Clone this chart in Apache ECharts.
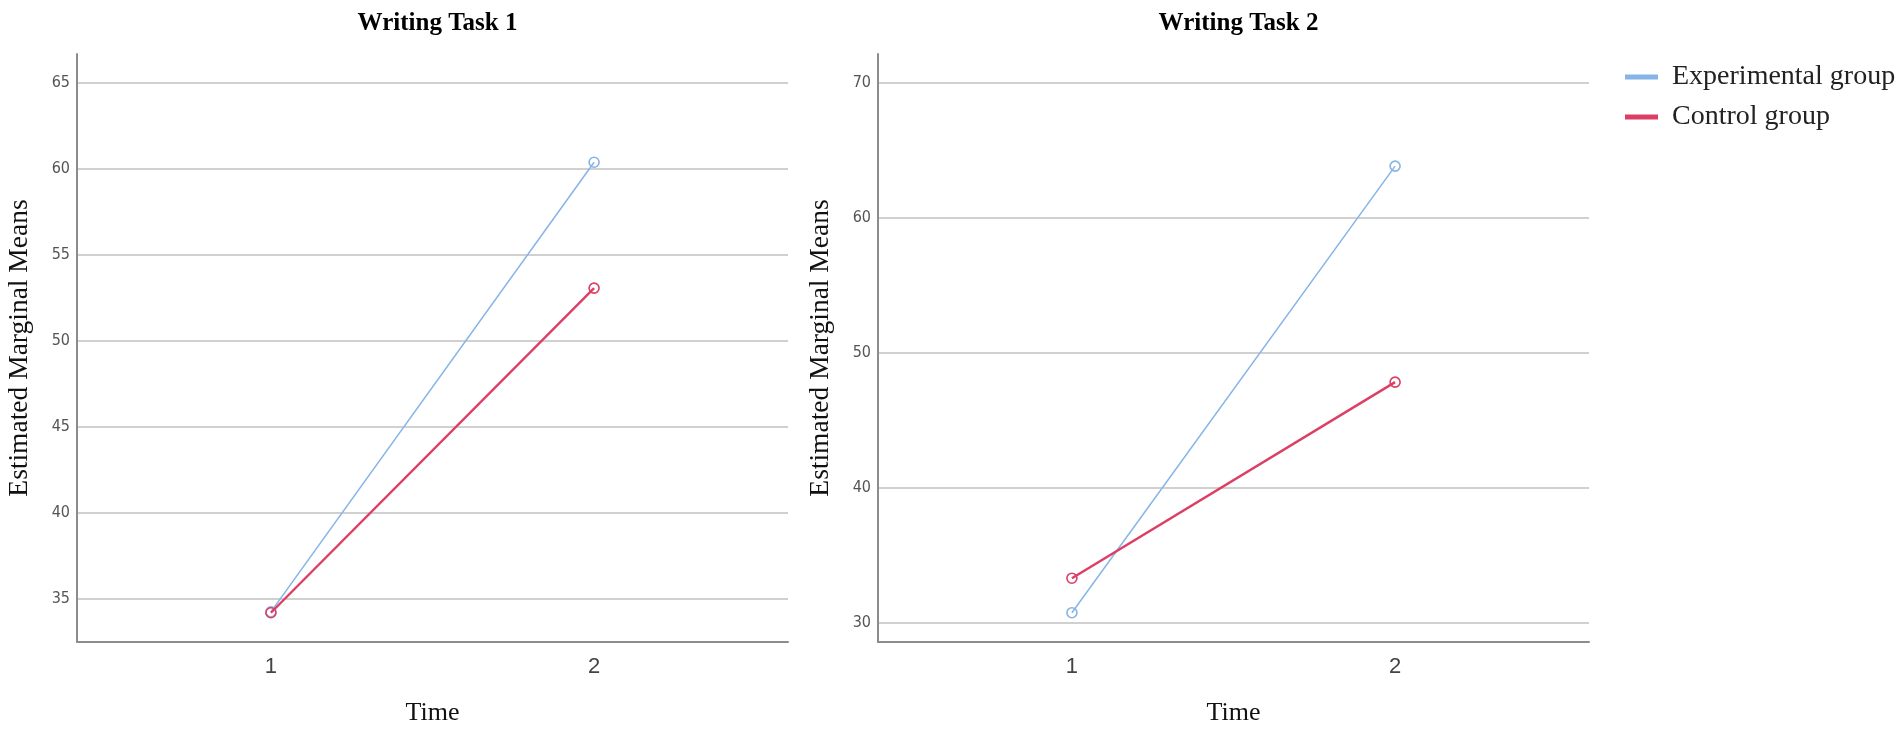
<!DOCTYPE html>
<html><head><meta charset="utf-8">
<script src="https://cdn.jsdelivr.net/npm/echarts@6/dist/echarts.min.js"></script>
<style>html,body{margin:0;padding:0;background:#fff}#c{width:1901px;height:731px}</style>
</head><body><div id="c"></div>
<script>
// ---- data ----
const timePoints = [1, 2];
const task1Experimental = [34.25, 60.37];
const task1Control = [34.2, 53.06];
const task2Experimental = [30.74, 63.84];
const task2Control = [33.3, 47.83];
const chartTitles = ['Writing Task 1', 'Writing Task 2'];
const seriesNames = ['Experimental group', 'Control group'];
const yAxisName = 'Estimated Marginal Means';
const xAxisName = 'Time';
const yRange1 = [32.5, 66.66];
const yRange2 = [28.57, 72.15];
const xRange = [0.4, 2.6];

// ---- style ----
const BLUE = '#86b4e6';
const RED = '#dc3e64';
const SERIF = '"Liberation Serif","Times New Roman",serif';
const NARROW = '"Liberation Sans Narrow","DejaVu Sans Condensed","Arial Narrow",sans-serif';
const grids = [
  {left: 77, top: 54, width: 711, height: 589},
  {left: 878, top: 54, width: 711, height: 589}
];
const pairs = (ys) => timePoints.map((t, i) => [t, ys[i]]);

function xAxisOpt(gi) {
  return {
    type: 'value', gridIndex: gi, min: xRange[0], max: xRange[1],
    name: xAxisName, nameLocation: 'middle', nameGap: 58,
    nameTextStyle: {fontFamily: SERIF, fontSize: 26, color: '#111'},
    axisLine: {show: true, onZero: false, lineStyle: {color: '#8c8c8c', width: 2}},
    axisTick: {show: false}, splitLine: {show: false},
    axisLabel: {margin: 14, fontSize: 22, color: '#444', fontFamily: '"Liberation Sans",Arial,sans-serif',
      formatter: v => timePoints.some(t => Math.abs(t - v) < 1e-9) ? String(Math.round(v)) : ''}
  };
}
function yAxisOpt(gi, range, step) {
  return {
    type: 'value', gridIndex: gi, min: range[0], max: range[1],
    name: yAxisName, nameLocation: 'middle', nameGap: 43,
    nameTextStyle: {fontFamily: SERIF, fontSize: 27.5, color: '#111'},
    axisLine: {show: true, lineStyle: {color: '#8c8c8c', width: 2}},
    axisTick: {show: false},
    splitLine: {show: true, showMaxLine: false, showMinLine: false, lineStyle: {color: '#d0d0d0', width: 2}},
    axisLabel: {margin: 7, fontSize: 16, color: '#555', fontFamily: NARROW,
      formatter: v => (Math.abs(v / step - Math.round(v / step)) < 1e-9) ? String(Math.round(v)) : ''}
  };
}
function lineSeries(name, color, width, xi, ys) {
  return {
    type: 'line', name, xAxisIndex: xi, yAxisIndex: xi, data: pairs(ys),
    symbol: 'circle', symbolSize: 10,
    lineStyle: {color, width},
    itemStyle: {color: 'rgba(255,255,255,0)', borderColor: color, borderWidth: 1.6},
    emphasis: {disabled: true}, z: name === seriesNames[1] ? 3 : 2
  };
}

const chart = echarts.init(document.getElementById('c'), null, {renderer: 'canvas'});
chart.setOption({
  animation: false,
  backgroundColor: '#fff',
  title: chartTitles.map((t, i) => ({
    text: t, left: grids[i].left + grids[i].width / 2, textAlign: 'center', top: 6,
    textStyle: {fontFamily: SERIF, fontWeight: 'bold', fontSize: 25, color: '#000'}
  })),
  legend: {
    orient: 'vertical', left: 1625, top: 61, icon: 'rect', itemWidth: 31, itemHeight: 3, itemGap: 8,
    padding: 0,
    data: [
      {name: seriesNames[0], itemStyle: {color: BLUE}},
      {name: seriesNames[1], itemStyle: {color: RED}}
    ],
    textStyle: {fontFamily: SERIF, fontSize: 28, color: '#222', lineHeight: 32, padding: [0, 0, 0, 10]}
  },
  grid: grids,
  xAxis: [xAxisOpt(0), xAxisOpt(1)],
  yAxis: [yAxisOpt(0, yRange1, 5), yAxisOpt(1, yRange2, 10)],
  series: [
    lineSeries(seriesNames[0], BLUE, 1.5, 0, task1Experimental),
    lineSeries(seriesNames[1], RED, 2.4, 0, task1Control),
    lineSeries(seriesNames[0], BLUE, 1.5, 1, task2Experimental),
    lineSeries(seriesNames[1], RED, 2.4, 1, task2Control)
  ]
});
</script></body></html>
